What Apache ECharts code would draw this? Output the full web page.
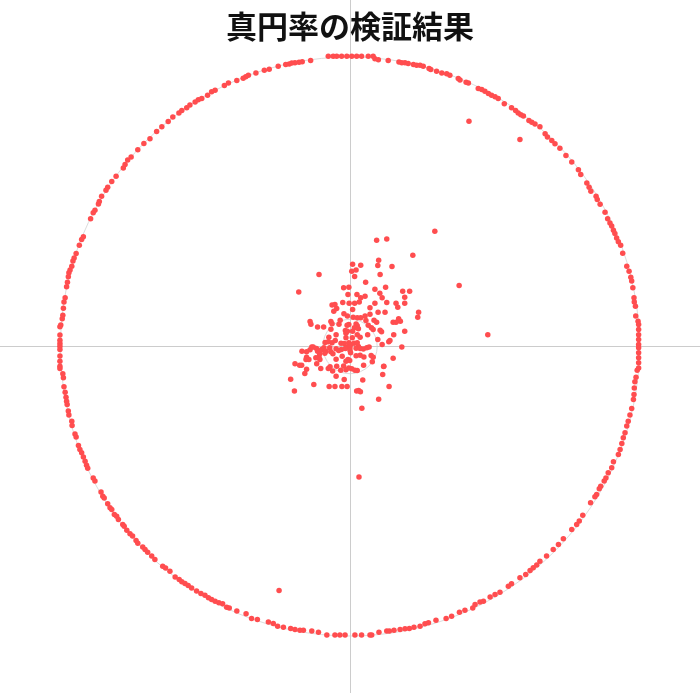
<!DOCTYPE html>
<html>
<head>
<meta charset="utf-8">
<script src="https://cdn.jsdelivr.net/npm/echarts@6/dist/echarts.min.js"></script>
<style>
html,body{margin:0;padding:0;background:#fff;}
#chart{width:700px;height:693px;}
</style>
</head>
<body>
<div id="chart"></div>
<script>
// ---- data ----
const titleText = '真円率の検証結果';
const referenceRadii = [1, 0.094];
const axisMaxX = 1.209;
const axisMaxY = 1.197;

const ringTopLeft = [
[-0.075,1.003],[-0.058,1.003],[-0.046,1.003],[-0.029,1.003],[-0.011,1.003],[-0.136,0.988],[-0.165,0.984],[-0.176,0.982],
[-0.190,0.980],[-0.201,0.979],[-0.210,0.976],[-0.222,0.974],[-0.248,0.968],[-0.279,0.958],[-0.296,0.954],[-0.325,0.945],
[-0.351,0.937],[-0.360,0.932],[-0.369,0.927],[-0.391,0.919],[-0.420,0.910],[-0.434,0.902],[-0.466,0.885],[-0.478,0.880],
[-0.492,0.868],[-0.512,0.857],[-0.524,0.852],[-0.535,0.845],[-0.553,0.834],[-0.564,0.825],[-0.581,0.815],[-0.591,0.807],
[-0.612,0.793],[-0.628,0.777],[-0.650,0.759],[-0.668,0.743],[-0.691,0.718],[-0.712,0.701],[-0.733,0.680],[-0.756,0.655],
[-0.768,0.644],[-0.777,0.629],[-0.783,0.617],[-0.808,0.588],[-0.823,0.570],[-0.837,0.550],[-0.843,0.540],[-0.858,0.519],
[-0.866,0.501],[-0.869,0.492],[-0.881,0.471],[-0.887,0.462],[-0.896,0.441],[-0.921,0.379],[-0.927,0.370],[-0.935,0.350],
[-0.946,0.321],[-0.953,0.306],[-0.957,0.295],[-0.961,0.277],[-0.967,0.264],[-0.971,0.255],[-0.973,0.241],[-0.976,0.222],
[-0.979,0.206],[-0.984,0.168],[-0.988,0.154],[-0.990,0.132],[-0.992,0.108],[-0.994,0.096],[-0.999,0.074],[-1.002,0.068],
[-1.002,0.040],[-1.002,0.022],[-1.002,0.010],[-1.002,0.001]
];
const ringTopRight = [
[0.006,1.003],[0.023,1.003],[0.040,1.003],[0.063,1.003],[0.080,1.003],[0.086,0.994],[0.098,0.991],[0.132,0.988],
[0.169,0.983],[0.179,0.980],[0.190,0.980],[0.201,0.978],[0.219,0.974],[0.230,0.972],[0.242,0.972],[0.253,0.968],
[0.273,0.960],[0.279,0.957],[0.299,0.951],[0.317,0.945],[0.334,0.942],[0.345,0.937],[0.374,0.926],[0.380,0.921],
[0.401,0.913],[0.409,0.910],[0.443,0.891],[0.455,0.888],[0.466,0.882],[0.478,0.874],[0.489,0.868],[0.501,0.863],
[0.512,0.857],[0.533,0.839],[0.558,0.825],[0.572,0.815],[0.581,0.807],[0.590,0.801],[0.599,0.796],[0.618,0.781],
[0.628,0.775],[0.639,0.769],[0.656,0.759],[0.674,0.735],[0.682,0.724],[0.697,0.712],[0.708,0.700],[0.725,0.685],
[0.746,0.660],[0.766,0.637],[0.789,0.611],[0.797,0.594],[0.818,0.565],[0.826,0.550],[0.832,0.536],[0.850,0.519],
[0.854,0.508],[0.864,0.491],[0.881,0.464],[0.890,0.441],[0.898,0.427],[0.904,0.416],[0.910,0.402],[0.915,0.390],
[0.921,0.375],[0.927,0.362],[0.935,0.350],[0.942,0.322],[0.956,0.277],[0.964,0.260],[0.970,0.239],[0.973,0.226],
[0.977,0.203],[0.981,0.168],[0.982,0.154],[0.986,0.139],[0.987,0.105],[0.995,0.087],[0.997,0.076],[0.997,0.059],
[0.997,0.041],[0.997,0.024],[0.997,0.007]
];
const ringBottomLeft = [
[-1.002,-0.010],[-1.002,-0.033],[-1.002,-0.051],[-1.002,-0.068],[-1.002,-0.076],[-0.992,-0.094],[-0.990,-0.108],[-0.988,-0.139],
[-0.984,-0.158],[-0.981,-0.175],[-0.979,-0.189],[-0.977,-0.200],[-0.973,-0.223],[-0.971,-0.237],[-0.961,-0.258],[-0.960,-0.273],
[-0.950,-0.302],[-0.946,-0.313],[-0.938,-0.342],[-0.933,-0.356],[-0.927,-0.367],[-0.921,-0.382],[-0.915,-0.396],[-0.910,-0.410],
[-0.906,-0.421],[-0.887,-0.454],[-0.881,-0.465],[-0.860,-0.503],[-0.854,-0.517],[-0.849,-0.523],[-0.837,-0.543],[-0.829,-0.557],
[-0.823,-0.563],[-0.814,-0.580],[-0.806,-0.586],[-0.800,-0.598],[-0.785,-0.615],[-0.780,-0.621],[-0.771,-0.635],[-0.760,-0.647],
[-0.751,-0.655],[-0.739,-0.670],[-0.733,-0.680],[-0.716,-0.693],[-0.708,-0.701],[-0.699,-0.711],[-0.685,-0.724],[-0.674,-0.736],
[-0.647,-0.759],[-0.637,-0.765],[-0.622,-0.776],[-0.604,-0.796],[-0.590,-0.805],[-0.581,-0.813],[-0.570,-0.819],[-0.559,-0.826],
[-0.547,-0.834],[-0.530,-0.845],[-0.515,-0.853],[-0.501,-0.859],[-0.489,-0.868],[-0.478,-0.874],[-0.466,-0.880],[-0.453,-0.885],
[-0.440,-0.889],[-0.426,-0.901],[-0.417,-0.903],[-0.391,-0.914],[-0.359,-0.923],[-0.340,-0.940],[-0.320,-0.943],[-0.282,-0.952],
[-0.265,-0.957],[-0.250,-0.966],[-0.230,-0.970],[-0.205,-0.974],[-0.190,-0.978],[-0.173,-0.980],[-0.161,-0.980],[-0.132,-0.983],
[-0.109,-0.987],[-0.080,-0.997],[-0.052,-0.997],[-0.035,-0.997],[-0.017,-0.997]
];
const ringBottomRight = [
[0.017,-0.997],[0.040,-0.997],[0.069,-0.997],[0.075,-0.997],[0.100,-0.987],[0.127,-0.983],[0.136,-0.983],[0.152,-0.980],
[0.173,-0.978],[0.190,-0.975],[0.205,-0.974],[0.221,-0.970],[0.242,-0.966],[0.259,-0.958],[0.271,-0.954],[0.297,-0.946],
[0.332,-0.940],[0.351,-0.932],[0.378,-0.918],[0.397,-0.911],[0.424,-0.903],[0.432,-0.891],[0.449,-0.883],[0.461,-0.880],
[0.484,-0.865],[0.501,-0.857],[0.518,-0.849],[0.547,-0.828],[0.558,-0.820],[0.587,-0.799],[0.607,-0.788],[0.622,-0.774],
[0.633,-0.764],[0.645,-0.755],[0.656,-0.742],[0.679,-0.724],[0.702,-0.701],[0.720,-0.684],[0.737,-0.664],[0.766,-0.632],
[0.783,-0.615],[0.792,-0.603],[0.804,-0.583],[0.831,-0.540],[0.846,-0.519],[0.852,-0.511],[0.861,-0.491],[0.866,-0.483],
[0.878,-0.465],[0.884,-0.454],[0.892,-0.436],[0.904,-0.419],[0.910,-0.398],[0.927,-0.373],[0.933,-0.356],[0.939,-0.335],
[0.944,-0.315],[0.950,-0.298],[0.956,-0.275],[0.961,-0.258],[0.967,-0.237],[0.973,-0.214],[0.979,-0.183],[0.981,-0.166],
[0.982,-0.143],[0.984,-0.122],[0.988,-0.106],[0.992,-0.082],[0.997,-0.074],[0.997,-0.056],[0.997,-0.039],[0.997,-0.022],
[0.997,-0.004]
];
const clusterPoints = [
[0.293,0.398],[0.092,0.367],[0.127,0.371],[0.217,0.315],[0.099,0.298],[0.096,0.280],[0.145,0.276],[0.009,0.284],
[0.037,0.281],[0.006,0.260],[0.021,0.264],[0.016,0.242],[0.104,0.249],[-0.107,0.249],[0.054,0.222],[-0.177,0.188],
[-0.022,0.203],[-0.004,0.205],[0.086,0.198],[0.123,0.205],[0.182,0.191],[0.206,0.191],[-0.007,0.180],[0.024,0.180],
[0.037,0.168],[0.052,0.174],[0.103,0.184],[0.111,0.168],[0.189,0.170],[-0.062,0.143],[-0.052,0.145],[-0.025,0.152],
[-0.003,0.149],[0.016,0.149],[0.032,0.154],[0.069,0.134],[0.086,0.149],[0.127,0.152],[0.159,0.149],[0.189,0.149],
[0.165,0.136],[-0.056,0.122],[-0.046,0.131],[0.009,0.128],[-0.021,0.113],[-0.009,0.105],[0.011,0.101],[0.025,0.099],
[0.037,0.099],[0.052,0.105],[0.069,0.111],[0.097,0.118],[0.121,0.118],[0.237,0.118],[0.234,0.101],[0.168,0.096],
[0.174,0.087],[0.159,0.084],[0.149,0.084],[-0.138,0.086],[-0.135,0.077],[-0.066,0.086],[-0.062,0.079],[-0.038,0.077],
[-0.034,0.091],[-0.004,0.076],[-0.010,0.073],[0.021,0.078],[0.025,0.072],[0.015,0.065],[0.055,0.090],[0.063,0.073],
[0.083,0.091],[0.092,0.084],[-0.112,0.067],[-0.091,0.067],[-0.066,0.060],[-0.016,0.055],[-0.014,0.046],[-0.009,0.053],
[0.009,0.053],[0.029,0.061],[0.074,0.065],[0.080,0.059],[0.104,0.056],[0.109,0.051],[0.189,0.053],[0.061,0.041],
[-0.073,0.032],[-0.048,0.041],[-0.014,0.030],[0.008,0.030],[0.025,0.041],[0.035,0.032],[0.096,0.024],[0.151,0.041],
[0.134,0.016],[0.138,0.021],[0.111,0.007],[0.179,-0.002],[-0.086,0.014],[-0.075,0.016],[-0.062,0.013],[-0.051,0.021],
[-0.031,0.011],[-0.020,0.010],[-0.004,0.013],[0.002,0.007],[0.014,0.011],[0.025,0.013],[0.029,0.000],[0.021,-0.006],
[-0.009,-0.002],[0.000,-0.004],[0.035,-0.007],[0.046,-0.009],[0.058,-0.004],[0.066,-0.002],[-0.132,-0.002],[-0.138,-0.011],
[-0.150,-0.018],[-0.127,-0.002],[-0.116,-0.007],[-0.112,-0.016],[-0.105,-0.025],[-0.107,-0.035],[-0.098,-0.010],[-0.090,-0.004],
[-0.083,-0.016],[-0.087,-0.023],[-0.070,-0.004],[-0.066,-0.018],[-0.059,-0.025],[-0.048,-0.008],[-0.039,-0.014],[-0.030,-0.010],
[-0.016,-0.007],[0.000,-0.014],[0.002,-0.022],[-0.166,-0.016],[-0.150,-0.037],[-0.142,-0.045],[-0.152,-0.045],[-0.190,-0.060],
[-0.174,-0.065],[-0.167,-0.065],[-0.150,-0.079],[-0.156,-0.093],[-0.118,-0.039],[-0.104,-0.045],[-0.115,-0.060],[-0.101,-0.076],
[-0.075,-0.076],[-0.069,-0.070],[-0.060,-0.085],[-0.048,-0.044],[-0.046,-0.068],[-0.027,-0.034],[-0.022,-0.067],[-0.014,-0.051],
[-0.007,-0.045],[-0.001,-0.048],[-0.032,-0.082],[-0.014,-0.080],[-0.004,-0.074],[0.006,-0.077],[0.017,-0.082],[0.025,-0.083],
[0.021,-0.032],[0.035,-0.030],[0.048,-0.036],[0.073,-0.031],[0.077,-0.053],[0.080,-0.037],[0.047,-0.065],[0.117,-0.068],
[0.113,-0.097],[0.149,-0.041],[-0.205,-0.113],[-0.192,-0.154],[-0.125,-0.131],[-0.048,-0.103],[-0.020,-0.114],[-0.072,-0.138],
[-0.052,-0.138],[-0.028,-0.138],[-0.010,-0.138],[0.044,-0.116],[0.023,-0.154],[0.036,-0.156],[0.030,-0.152],[0.135,-0.138],
[0.099,-0.182],[0.041,-0.213],[0.116,-0.069]
];
const outlierPoints = [
[0.411,0.778],[0.587,0.715],[0.377,0.211],[0.476,0.041],[0.031,-0.451],[-0.245,-0.843]
];

// ---- chart ----
const pointColor = '#ff4d4f';
const chart = echarts.init(document.getElementById('chart'));
const allPoints = [].concat(ringTopLeft, ringTopRight, ringBottomLeft, ringBottomRight, clusterPoints, outlierPoints);

function polarAxes(idx) {
  return {
    angle: {
      polarIndex: idx, type: 'value', min: 0, max: 360, startAngle: 90,
      axisLine: { show: true, lineStyle: { color: '#dcdcdc', width: 1 } },
      axisTick: { show: false }, axisLabel: { show: false }, splitLine: { show: false }
    },
    radius: {
      polarIndex: idx, type: 'value', min: 0, max: 1,
      axisLine: { show: false }, axisTick: { show: false }, axisLabel: { show: false }, splitLine: { show: false }
    }
  };
}
const p0 = polarAxes(0), p1 = polarAxes(1);

chart.setOption({
  animation: false,
  backgroundColor: '#ffffff',
  title: {
    text: titleText, left: 'center', top: 6,
    textStyle: { fontFamily: 'Noto Sans CJK JP', fontWeight: 'bold', fontSize: 31, color: '#111' }
  },
  grid: { left: 0, right: 0, top: 0, bottom: 0 },
  xAxis: {
    type: 'value', min: -axisMaxX, max: axisMaxX,
    axisLine: { show: true, onZero: true, lineStyle: { color: '#cccccc', width: 1 } },
    axisTick: { show: false }, axisLabel: { show: false }, splitLine: { show: false }
  },
  yAxis: {
    type: 'value', min: -axisMaxY, max: axisMaxY,
    axisLine: { show: true, onZero: true, lineStyle: { color: '#cccccc', width: 1 } },
    axisTick: { show: false }, axisLabel: { show: false }, splitLine: { show: false }
  },
  polar: [
    { center: ['50%', '50%'], radius: 10 },
    { center: ['50%', '50%'], radius: 5 }
  ],
  angleAxis: [p0.angle, p1.angle],
  radiusAxis: [p0.radius, p1.radius],
  series: [{
    type: 'scatter',
    data: allPoints,
    symbol: 'circle',
    symbolSize: 5.5,
    itemStyle: { color: pointColor, opacity: 1 },
    z: 5
  }]
});

// set the reference circle radii from the cartesian scale
const o = chart.convertToPixel({ gridIndex: 0 }, [0, 0]);
const u = chart.convertToPixel({ gridIndex: 0 }, [1, 0]);
const unitPx = u[0] - o[0];
chart.setOption({
  polar: [
    { center: [o[0], o[1]], radius: referenceRadii[0] * unitPx },
    { center: [o[0], o[1]], radius: referenceRadii[1] * unitPx }
  ]
});
</script>
</body>
</html>
